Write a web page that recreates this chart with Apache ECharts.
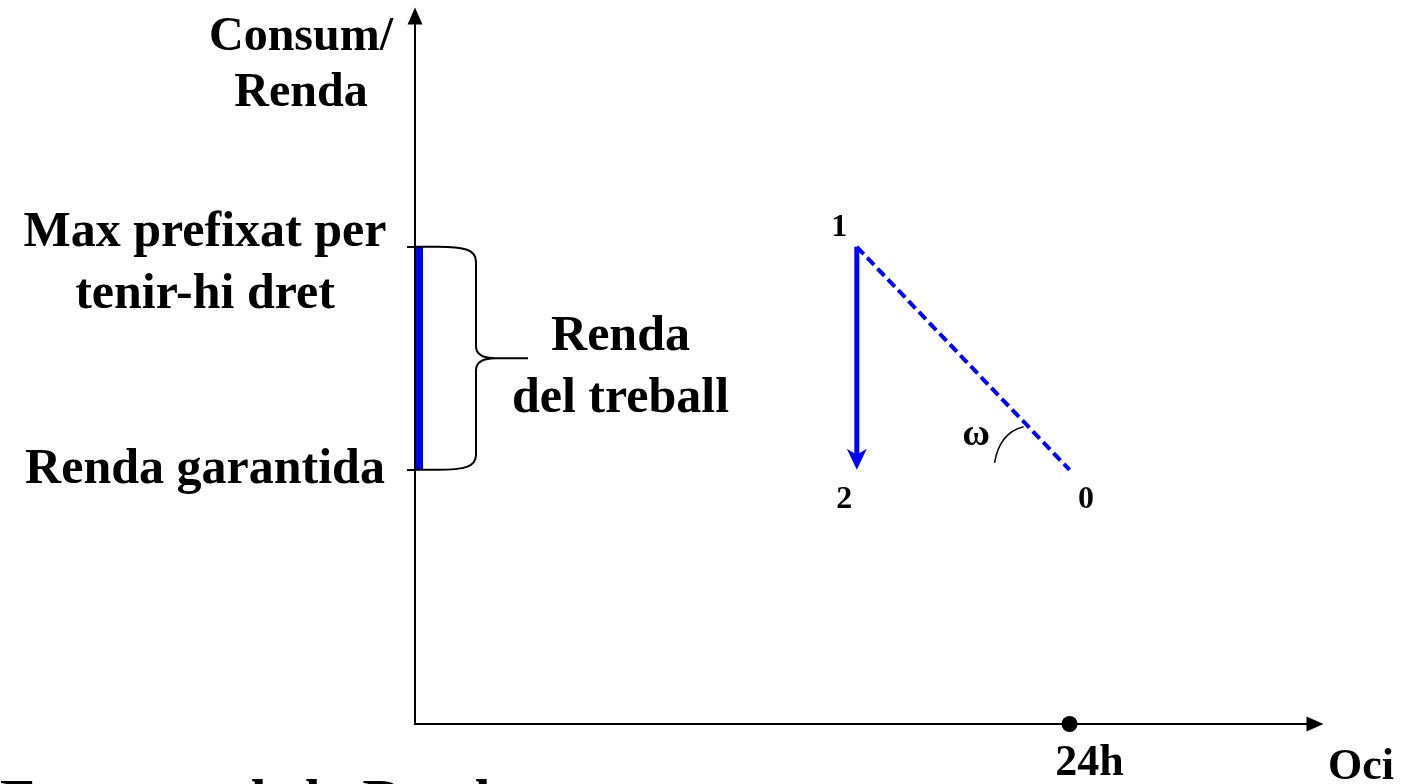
<!DOCTYPE html>
<html>
<head>
<meta charset="utf-8">
<script src="https://cdn.jsdelivr.net/npm/echarts@6/dist/echarts.min.js"></script>
<style>
  html, body { margin: 0; padding: 0; background: #fff; }
  #main { width: 1403px; height: 784px; }
</style>
</head>
<body>
<div id="main"></div>
<script>
// eixos
const xMax = 33
const yMax = 100
const xTicks = [24]
const xTickLabels = ['24h']
const yTicks = [35.9, 67.4]
const yTickLabels = ['Renda garantida', 'Max prefixat per\ntenir-hi dret']

// punts 0, 1, 2 de la restricció
const pointNames = ['0', '1', '2']
const pointX = [24, 16.2, 16.2]
const pointY = [35.9, 67.4, 35.9]

// tram de renda del treball sobre l'eix vertical
const spanY = [35.9, 67.4]

const font = 'Liberation Serif'
const blue = '#0000ff'

const chart = echarts.init(document.getElementById('main'), null, { renderer: 'canvas' })

// etiquetes de l'eix vertical: linies centrades entre elles
function yLabel(v) {
  const i = yTicks.indexOf(v)
  const lines = yTickLabels[i].split('\n').map(t => '{a|' + t + '}')
  if (lines.length > 1) lines.unshift('{s| }')
  return lines.join('\n')
}

// claudator, tram blau, fletxa 1->2 i arc de l'angle
function renderDecor(params, api) {
  const top = api.coord([0, spanY[1]])
  const bot = api.coord([0, spanY[0]])
  const x0 = top[0]
  const yT = top[1], yB = bot[1]
  const mid = (yT + yB) / 2
  const xv = x0 + 61
  const xt = x0 + 113
  const brace = [
    'M', x0, yT, 'L', x0 + 22, yT,
    'C', x0 + 50, yT, xv, yT + 3, xv, yT + 15,
    'L', xv, mid - 12,
    'C', xv, mid - 3, xv + 8, mid, xv + 20, mid,
    'L', xt, mid,
    'M', xv + 20, mid,
    'C', xv + 8, mid, xv, mid + 3, xv, mid + 12,
    'L', xv, yB - 15,
    'C', xv, yB - 3, x0 + 50, yB, x0 + 22, yB,
    'L', x0, yB
  ].join(' ')

  const p1 = api.coord([pointX[1], pointY[1]])
  const p2 = api.coord([pointX[2], pointY[2]])
  const p0 = api.coord([pointX[0], pointY[0]])

  return {
    type: 'group',
    children: [
      {
        type: 'rect',
        shape: { x: x0 + 1, y: yT, width: 7, height: yB - yT },
        style: { fill: blue }
      },
      {
        type: 'path',
        shape: { pathData: brace },
        style: { fill: null, stroke: '#000', lineWidth: 2 }
      },
      {
        type: 'line',
        shape: { x1: p1[0], y1: p1[1], x2: p2[0], y2: p2[1] - 14 },
        style: { stroke: blue, lineWidth: 5 }
      },
      {
        type: 'polygon',
        shape: { points: [[p2[0], p2[1]], [p2[0] - 10, p2[1] - 21], [p2[0], p2[1] - 15], [p2[0] + 10, p2[1] - 21]] },
        style: { fill: blue }
      },
      {
        type: 'path',
        shape: { pathData: ['M', p0[0] - 75, p0[1] - 7, 'Q', p0[0] - 70, p0[1] - 37, p0[0] - 46, p0[1] - 43].join(' ') },
        style: { fill: null, stroke: '#000', lineWidth: 1.5 }
      }
    ]
  }
}

const labelStyle = { color: '#000', fontFamily: font, fontWeight: 'bold' }

const option = {
  animation: false,
  backgroundColor: '#fff',
  grid: { left: 415, top: 16, right: 88, bottom: 60, containLabel: false, outerBoundsMode: 'none' },
  xAxis: {
    type: 'value',
    min: 0,
    max: xMax,
    name: 'Oci',
    nameLocation: 'end',
    nameGap: 46,
    nameTextStyle: { ...labelStyle, fontSize: 44, align: 'center', verticalAlign: 'top', padding: [22, 0, 0, 0] },
    axisLine: { show: true, symbol: ['none', 'triangle'], symbolSize: [15, 17], lineStyle: { color: '#000', width: 2 } },
    axisTick: { show: false },
    splitLine: { show: false },
    axisLabel: {
      customValues: xTicks,
      formatter: v => xTickLabels[xTicks.indexOf(v)],
      ...labelStyle,
      fontSize: 44,
      margin: 18,
      padding: [0, 0, 0, 40]
    }
  },
  yAxis: {
    type: 'value',
    min: 0,
    max: yMax,
    name: 'Consum/\nRenda',
    nameLocation: 'end',
    nameGap: 6,
    nameTextStyle: { ...labelStyle, fontSize: 48, lineHeight: 56, align: 'center', verticalAlign: 'top', padding: [0, 228, 0, 0] },
    axisLine: { show: true, symbol: ['none', 'triangle'], symbolSize: [15, 17], lineStyle: { color: '#000', width: 2 } },
    axisTick: { show: true, customValues: yTicks, length: 8, lineStyle: { color: '#000', width: 2 } },
    splitLine: { show: false },
    axisLabel: {
      customValues: yTicks,
      formatter: yLabel,
      margin: 22,
      ...labelStyle,
      rich: {
        a: { ...labelStyle, fontSize: 50, lineHeight: 62, width: 376, align: 'center' },
        s: { fontSize: 10, lineHeight: 34 }
      }
    }
  },
  series: [
    {
      // recta pressupostaria 1 -> 0
      type: 'line',
      data: [[pointX[1], pointY[1]], [pointX[0], pointY[0]]],
      symbol: 'none',
      lineStyle: { color: blue, width: 4, type: [10, 5] },
      z: 3
    },
    {
      type: 'custom',
      renderItem: renderDecor,
      data: [0],
      clip: false,
      z: 4
    },
    {
      // 24h
      type: 'scatter',
      data: [[xTicks[0], 0]],
      symbolSize: 16,
      itemStyle: { color: '#000', opacity: 1 },
      clip: false,
      z: 5
    },
    {
      // noms dels punts i textos
      type: 'scatter',
      symbolSize: 1,
      itemStyle: { color: 'rgba(0,0,0,0)', opacity: 1 },
      silent: true,
      clip: false,
      label: { show: true, position: [0, 0], align: 'center', verticalAlign: 'middle', ...labelStyle, fontSize: 32 },
      data: [
        { value: [pointX[0], pointY[0]], label: { formatter: pointNames[0], offset: [17, 30] } },
        { value: [pointX[1], pointY[1]], label: { formatter: pointNames[1], offset: [-17, -19] } },
        { value: [pointX[2], pointY[2]], label: { formatter: pointNames[2], offset: [-12, 30] } },
        { value: [pointX[0], pointY[0]], label: { formatter: 'ω', fontSize: 38, offset: [-93, -34] } },
        {
          value: [0, (spanY[0] + spanY[1]) / 2],
          label: { formatter: 'Renda\ndel treball', fontSize: 50, lineHeight: 62, offset: [206, 10] }
        }
      ]
    }
  ],
  graphic: [
    {
      type: 'text',
      left: 0,
      top: 777,
      style: { text: 'Esquema de la Renda', font: 'bold 56px "Liberation Serif"', fill: '#000' }
    }
  ]
}

chart.setOption(option)
</script>
</body>
</html>
